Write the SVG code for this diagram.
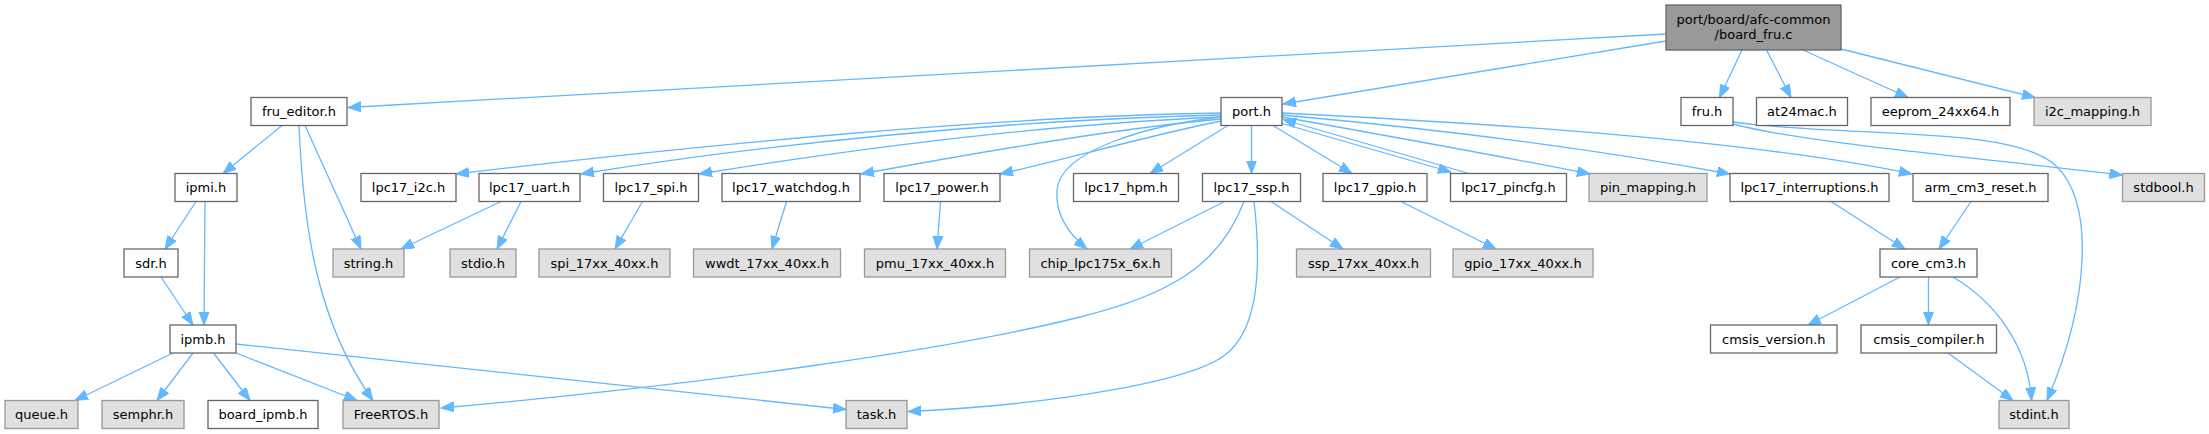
<svg xmlns="http://www.w3.org/2000/svg" width="2209" height="434" viewBox="0 0 2209 434">
<style>
.w rect{fill:#ffffff;stroke:#666666;stroke-width:1.3}
.g rect{fill:#e0e0e0;stroke:#999999;stroke-width:1.3}
.t rect{fill:#999999;stroke:#666666;stroke-width:1.3}
text{font-family:"DejaVu Sans","Liberation Sans",sans-serif;font-size:13px;fill:#000000;text-anchor:middle}
#edges path{fill:none;stroke:#63b8ff;stroke-width:1.3;marker-end:url(#ah)}
</style>
<defs>
<marker id="ah" markerUnits="userSpaceOnUse" markerWidth="14" markerHeight="11" refX="13" refY="5" orient="auto">
<path d="M0,0 L13,5 L0,10 z" fill="#63b8ff" stroke="#63b8ff" stroke-width="1"/>
</marker>
</defs>
<rect width="2209" height="434" fill="#ffffff"/>
<g id="edges">
<path d="M1666,34 L348,107.5"/>
<path d="M1666,41 L1283,104"/>
<path d="M1742,50 L1719.5,97.5"/>
<path d="M1766.5,50 L1791,97.5"/>
<path d="M1803,50 L1908,97.5"/>
<path d="M1841,49 L2035,97.5"/>
<path d="M282,125.5 L223,173.5"/>
<path d="M305,125.5 L361,249"/>
<path d="M299,125.5 C303,220 315,320 373,400.5"/>
<path d="M196,201.5 L165,249"/>
<path d="M205,201.5 L204,325"/>
<path d="M161,277 L193,325"/>
<path d="M173,353 L75,400.5"/>
<path d="M193,353 L157,400.5"/>
<path d="M213.5,353 L250,400.5"/>
<path d="M236,353 L357,400.5"/>
<path d="M236,344 L846,409.5"/>
<path d="M501,201.5 L401,249"/>
<path d="M521,201.5 L497,249"/>
<path d="M1221,113 C1000,116 700,145 456,174"/>
<path d="M1221,115 C1000,120 760,145 581,174"/>
<path d="M1221,117 C1050,124 860,148 699,174"/>
<path d="M1221,119 C1120,128 980,152 861,174"/>
<path d="M1221,121 C1160,133 1070,158 1000,174"/>
<path d="M1221,117 C1150,125 1060,150 1057,190 C1055,215 1070,235 1087,249"/>
<path d="M1228,125.5 L1150,173.5"/>
<path d="M1251.5,125.5 L1251.5,173.5"/>
<path d="M1273,125.5 L1352,173.5"/>
<path d="M1282,123.5 L1451,172"/>
<path d="M1469,173.5 L1283,119.5"/>
<path d="M1282,117 C1400,138 1500,156 1590,174"/>
<path d="M1282,115 C1450,130 1600,150 1730,174"/>
<path d="M1282,113 C1500,124 1750,140 1912,174"/>
<path d="M1224.5,201.5 L1130,249"/>
<path d="M1271,201.5 L1343,249"/>
<path d="M1244,201.5 C1220,265 1170,295 1080,317 C950,350 700,385 441,408"/>
<path d="M1254,201.5 C1262,270 1258,330 1225,355 C1190,382 1050,405 908,411.5"/>
<path d="M1401,201.5 L1496,249"/>
<path d="M642.5,201.5 L615,249"/>
<path d="M786.5,201.5 L772,249"/>
<path d="M940.5,201.5 L937,249"/>
<path d="M1831,201.5 L1905,249"/>
<path d="M1971,201.5 L1939,249"/>
<path d="M1900,277 L1808,325"/>
<path d="M1928.5,277 L1928.5,325"/>
<path d="M1953,277 C1995,302 2028,345 2031.5,400.5"/>
<path d="M1948,353 L2013,400.5"/>
<path d="M1733,122 C1850,138 2010,125 2055,165 C2095,200 2090,300 2047,400.5"/>
<path d="M1733,124 C1800,142 1950,155 2122.5,175"/>
</g>
<g id="n_board_fru" class="t"><rect x="1666" y="5" width="175" height="45"/><text x="1753.5" y="23.5">port/board/afc-common</text><text x="1753.5" y="39">/board_fru.c</text></g>
<g id="n_fru_editor" class="w"><rect x="251" y="97.5" width="96" height="28"/><text x="299" y="116">fru_editor.h</text></g>
<g id="n_port" class="w"><rect x="1221" y="97.5" width="61" height="28"/><text x="1251.5" y="116">port.h</text></g>
<g id="n_fru" class="w"><rect x="1681" y="97.5" width="52" height="28"/><text x="1707" y="116">fru.h</text></g>
<g id="n_at24mac" class="w"><rect x="1756.5" y="97.5" width="91" height="28"/><text x="1802" y="116">at24mac.h</text></g>
<g id="n_eeprom" class="w"><rect x="1871" y="97.5" width="139" height="28"/><text x="1940.5" y="116">eeprom_24xx64.h</text></g>
<g id="n_i2c_mapping" class="g"><rect x="2034" y="97.5" width="117" height="28"/><text x="2092.5" y="116">i2c_mapping.h</text></g>
<g id="n_ipmi" class="w"><rect x="175" y="173.5" width="62" height="28"/><text x="206" y="192">ipmi.h</text></g>
<g id="n_lpc17_i2c" class="w"><rect x="361" y="173.5" width="95" height="28"/><text x="408.5" y="192">lpc17_i2c.h</text></g>
<g id="n_lpc17_uart" class="w"><rect x="479" y="173.5" width="101" height="28"/><text x="529.5" y="192">lpc17_uart.h</text></g>
<g id="n_lpc17_spi" class="w"><rect x="603.5" y="173.5" width="95" height="28"/><text x="651" y="192">lpc17_spi.h</text></g>
<g id="n_lpc17_watchdog" class="w"><rect x="722" y="173.5" width="138" height="28"/><text x="791" y="192">lpc17_watchdog.h</text></g>
<g id="n_lpc17_power" class="w"><rect x="884" y="173.5" width="116" height="28"/><text x="942" y="192">lpc17_power.h</text></g>
<g id="n_lpc17_hpm" class="w"><rect x="1073.5" y="173.5" width="105" height="28"/><text x="1126" y="192">lpc17_hpm.h</text></g>
<g id="n_lpc17_ssp" class="w"><rect x="1202.5" y="173.5" width="98" height="28"/><text x="1251.5" y="192">lpc17_ssp.h</text></g>
<g id="n_lpc17_gpio" class="w"><rect x="1323" y="173.5" width="104" height="28"/><text x="1375" y="192">lpc17_gpio.h</text></g>
<g id="n_lpc17_pincfg" class="w"><rect x="1450.5" y="173.5" width="116" height="28"/><text x="1508.5" y="192">lpc17_pincfg.h</text></g>
<g id="n_pin_mapping" class="g"><rect x="1589" y="173.5" width="118" height="28"/><text x="1648" y="192">pin_mapping.h</text></g>
<g id="n_lpc17_interruptions" class="w"><rect x="1730" y="173.5" width="159" height="28"/><text x="1809.5" y="192">lpc17_interruptions.h</text></g>
<g id="n_arm_cm3_reset" class="w"><rect x="1913" y="173.5" width="135" height="28"/><text x="1980.5" y="192">arm_cm3_reset.h</text></g>
<g id="n_stdbool" class="g"><rect x="2122.5" y="173.5" width="82" height="28"/><text x="2163.5" y="192">stdbool.h</text></g>
<g id="n_sdr" class="w"><rect x="124" y="249" width="54" height="28"/><text x="151" y="267.5">sdr.h</text></g>
<g id="n_string" class="g"><rect x="333" y="249" width="71" height="28"/><text x="368.5" y="267.5">string.h</text></g>
<g id="n_stdio" class="g"><rect x="450" y="249" width="66" height="28"/><text x="483" y="267.5">stdio.h</text></g>
<g id="n_spi_17xx" class="g"><rect x="539" y="249" width="131" height="28"/><text x="604.5" y="267.5">spi_17xx_40xx.h</text></g>
<g id="n_wwdt_17xx" class="g"><rect x="693.5" y="249" width="147" height="28"/><text x="767" y="267.5">wwdt_17xx_40xx.h</text></g>
<g id="n_pmu_17xx" class="g"><rect x="864.5" y="249" width="141" height="28"/><text x="935" y="267.5">pmu_17xx_40xx.h</text></g>
<g id="n_chip" class="g"><rect x="1029.5" y="249" width="142" height="28"/><text x="1100.5" y="267.5">chip_lpc175x_6x.h</text></g>
<g id="n_ssp_17xx" class="g"><rect x="1296.5" y="249" width="134" height="28"/><text x="1363.5" y="267.5">ssp_17xx_40xx.h</text></g>
<g id="n_gpio_17xx" class="g"><rect x="1453" y="249" width="140" height="28"/><text x="1523" y="267.5">gpio_17xx_40xx.h</text></g>
<g id="n_core_cm3" class="w"><rect x="1880" y="249" width="97" height="28"/><text x="1928.5" y="267.5">core_cm3.h</text></g>
<g id="n_ipmb" class="w"><rect x="170" y="325" width="66" height="28"/><text x="203" y="343.5">ipmb.h</text></g>
<g id="n_cmsis_version" class="w"><rect x="1710.5" y="325" width="126.5" height="28"/><text x="1773.8" y="343.5">cmsis_version.h</text></g>
<g id="n_cmsis_compiler" class="w"><rect x="1861" y="325" width="135.5" height="28"/><text x="1928.8" y="343.5">cmsis_compiler.h</text></g>
<g id="n_queue" class="g"><rect x="5" y="400.5" width="73" height="28"/><text x="41.5" y="419">queue.h</text></g>
<g id="n_semphr" class="g"><rect x="102" y="400.5" width="82" height="28"/><text x="143" y="419">semphr.h</text></g>
<g id="n_board_ipmb" class="w"><rect x="208" y="400.5" width="110" height="28"/><text x="263" y="419">board_ipmb.h</text></g>
<g id="n_FreeRTOS" class="g"><rect x="343" y="400.5" width="96" height="28"/><text x="391" y="419">FreeRTOS.h</text></g>
<g id="n_task" class="g"><rect x="846" y="400.5" width="61" height="28"/><text x="876.5" y="419">task.h</text></g>
<g id="n_stdint" class="g"><rect x="1999" y="400.5" width="70" height="28"/><text x="2034" y="419">stdint.h</text></g>
</svg>
